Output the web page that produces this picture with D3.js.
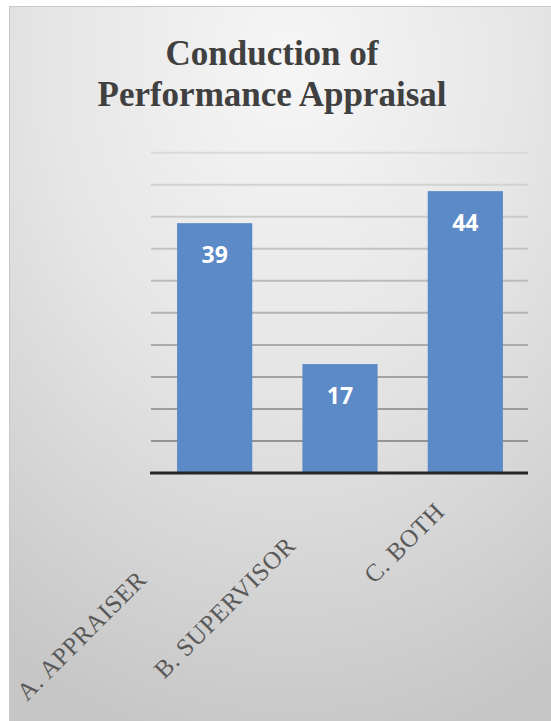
<!DOCTYPE html>
<html>
<head>
<meta charset="utf-8">
<script src="https://cdn.jsdelivr.net/npm/d3@7"></script>
<style>
  html, body { margin: 0; padding: 0; background: #ffffff; }
  svg { display: block; }
</style>
</head>
<body>
<svg id="chart" width="551" height="721"></svg>
<script>
const categories = ["A. APPRAISER", "B. SUPERVISOR", "C. BOTH"];
const values = [39, 17, 44];
const titleLines = ["Conduction of", "Performance Appraisal"];
const yTicks = [5, 10, 15, 20, 25, 30, 35, 40, 45, 50];

const svg = d3.select("#chart");
const defs = svg.append("defs");
const grad = defs.append("radialGradient")
  .attr("id", "bg").attr("cx", "50%").attr("cy", "8%").attr("r", "95%")
  .attr("fx", "50%").attr("fy", "8%");
grad.append("stop").attr("offset", "0%").attr("stop-color", "#f6f6f6");
grad.append("stop").attr("offset", "45%").attr("stop-color", "#e6e6e6");
grad.append("stop").attr("offset", "100%").attr("stop-color", "#c6c6c6");

svg.append("rect")
  .attr("x", 9.5).attr("y", 6.5).attr("width", 560).attr("height", 730)
  .attr("fill", "url(#bg)").attr("stroke", "#c8c8c8").attr("stroke-width", 1);

// Title
svg.append("g").selectAll("text").data(titleLines).join("text")
  .attr("x", 272)
  .attr("y", (d, i) => 65 + i * 41)
  .attr("text-anchor", "middle")
  .attr("font-family", "'Liberation Serif', 'Times New Roman', serif")
  .attr("font-weight", "bold")
  .attr("font-size", 35)
  .attr("fill", "#404040")
  .text(d => d);

const x = d3.scaleBand().domain(categories).range([152, 528])
  .paddingInner(0.4).paddingOuter(0.2);
const y = d3.scaleLinear().domain([0, 50]).range([473, 152.7]);
const gridColor = d3.interpolateRgb("#8c8c8c", "#dadada");

// Gridlines
svg.append("g").selectAll("line").data(yTicks).join("line")
  .attr("x1", 151).attr("x2", 528)
  .attr("y1", d => y(d)).attr("y2", d => y(d))
  .attr("stroke", d => gridColor(d / 50))
  .attr("stroke-width", 2);

// Bars
svg.append("g").selectAll("rect").data(values).join("rect")
  .attr("x", (d, i) => x(categories[i]))
  .attr("width", x.bandwidth())
  .attr("y", d => y(d))
  .attr("height", d => y(0) - y(d))
  .attr("fill", "#5b8ac6");

// Value labels
svg.append("g").selectAll("text").data(values).join("text")
  .attr("x", (d, i) => x(categories[i]) + x.bandwidth() / 2)
  .attr("y", d => y(d) + 40)
  .attr("text-anchor", "middle")
  .attr("font-family", "'Open Sans', 'Liberation Sans', sans-serif")
  .attr("font-weight", "bold")
  .attr("font-size", 23)
  .attr("fill", "#ffffff")
  .text(d => d);

// Baseline axis
svg.append("line")
  .attr("x1", 150).attr("x2", 528)
  .attr("y1", y(0)).attr("y2", y(0))
  .attr("stroke", "#262626").attr("stroke-width", 3);

// Category labels (rotated)
const lx = d3.scalePoint().domain(categories).range([148, 446]);
const ly = d3.scalePoint().domain(categories).range([581, 513]);
svg.append("g").selectAll("text").data(categories).join("text")
  .attr("transform", d => `translate(${lx(d)},${ly(d)}) rotate(-45)`)
  .attr("text-anchor", "end")
  .attr("font-family", "'Liberation Serif', 'Times New Roman', serif")
  .attr("font-size", 25)
  .attr("letter-spacing", 0.6)
  .attr("fill", "#595959")
  .text(d => d);
</script>
</body>
</html>
